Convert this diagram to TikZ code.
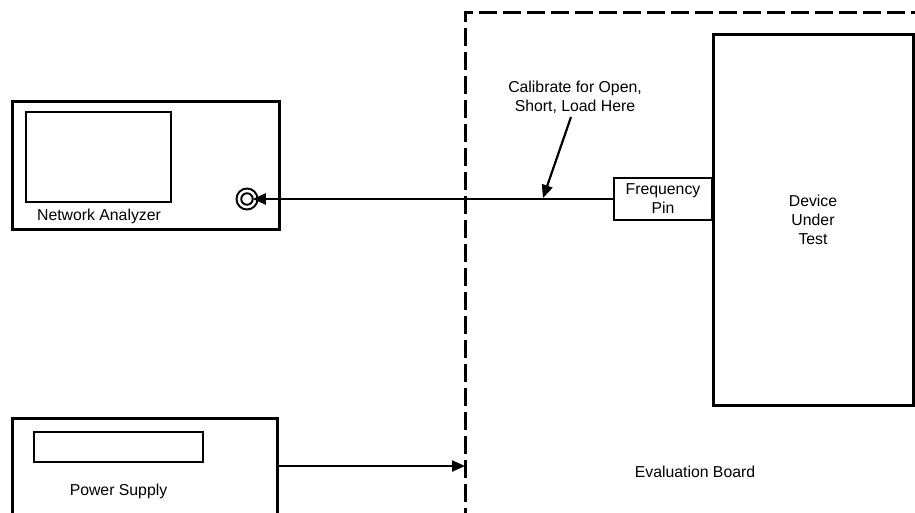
\documentclass[tikz,border=0pt]{standalone}
\usepackage{fontspec}
\setmainfont{Liberation Sans}
\usetikzlibrary{arrows.meta}
\begin{document}
\begin{tikzpicture}[x=1pt,y=-1pt,
  every node/.style={font=\fontsize{15.8}{19}\selectfont, align=center, inner sep=0pt, outer sep=0pt},
  bigbox/.style={draw, line width=3pt, rectangle},
  smallbox/.style={draw, line width=1.6pt, rectangle},
  pinbox/.style={draw, line width=2pt, rectangle},
  boardbox/.style={draw, line width=3pt, rectangle, dash pattern=on 18pt off 6pt},
  conn/.style={draw, line width=2.2pt, -{Triangle[length=13pt,width=11pt]}},
  ring/.style={draw, circle, line width=1.9pt}]
\useasboundingbox (0,0) rectangle (915,512);
\clip (0,0) rectangle (915,512);
% evaluation board
\node[boardbox, minimum width=465, minimum height=518] (board) at (697.5,271) {};
\node (boardlbl) at (695,472) {Evaluation Board};
% device under test
\node[bigbox, minimum width=200, minimum height=371] (dut) at (813,219.5) {Device\\Under\\Test};
\node[pinbox, fill=white, minimum width=98, minimum height=42] (pin) at (663,199) {Frequency\\Pin};
% network analyzer
\node[bigbox, minimum width=267, minimum height=128] (na) at (145.5,165) {};
\node[smallbox, minimum width=145, minimum height=90] (screen) at (98.5,157) {};
\node (nalbl) at (99,216) {Network Analyzer};
\node[ring, minimum size=21] (port) at (247,199) {};
\node[ring, minimum size=11.5] (portin) at (247,199) {};
% power supply
\node[bigbox, minimum width=265, minimum height=112] (ps) at (144.5,474) {};
\node[smallbox, minimum width=169, minimum height=30] (psdisp) at (118.5,447) {};
\node (pslbl) at (118.5,491) {Power Supply};
% connectors
\draw[conn] (pin.west) -- (portin.east);
\coordinate (psy) at (0,466);
\draw[conn] (ps.east |- psy) -- (board.west |- psy);
% calibration annotation
\node (cal) at (575,97) {Calibrate for Open,\\Short, Load Here};
\coordinate (calstart) at (571,117);
\coordinate (caltip) at (543,198);
\draw[conn] (calstart) -- (caltip);
\end{tikzpicture}
\end{document}
